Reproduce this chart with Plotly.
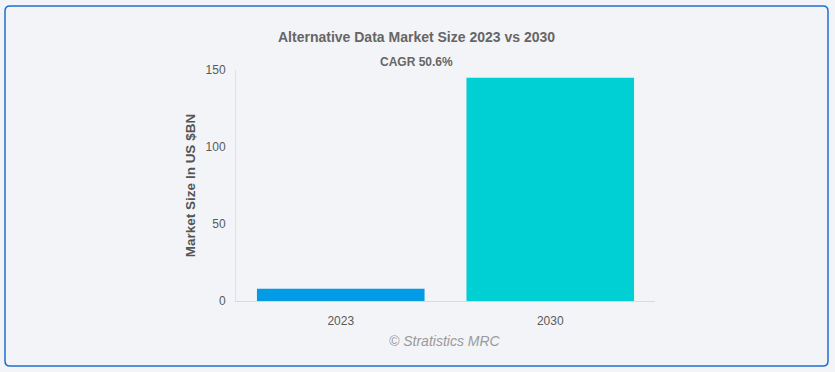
import plotly.graph_objects as go

years = ["2023", "2030"]
market_size = [8.0, 145.0]
bar_colors = ["#039be5", "#00d0d4"]
title_text = "Alternative Data Market Size 2023 vs 2030"
subtitle_text = "CAGR 50.6%"
y_title = "Market Size In US $BN"
credit = "© Stratistics MRC"

W, H = 835, 372
L, R, T, B = 236, 180, 70, 71
pw, ph = W - L - R, H - T - B

def px(x):
    return (x - L) / pw

def py(y):
    return (H - B - y) / ph

fig = go.Figure(go.Bar(x=years, y=market_size, marker=dict(color=bar_colors, line=dict(width=0)), width=0.8))

# rounded border rectangle
x0, x1, y0, y1, r = 5, 828, 6, 366, 5
path = (
    f"M {px(x0+r)} {py(y0)} L {px(x1-r)} {py(y0)} Q {px(x1)} {py(y0)} {px(x1)} {py(y0+r)} "
    f"L {px(x1)} {py(y1-r)} Q {px(x1)} {py(y1)} {px(x1-r)} {py(y1)} "
    f"L {px(x0+r)} {py(y1)} Q {px(x0)} {py(y1)} {px(x0)} {py(y1-r)} "
    f"L {px(x0)} {py(y0+r)} Q {px(x0)} {py(y0)} {px(x0+r)} {py(y0)} Z"
)

fig.update_layout(
    width=W, height=H,
    margin=dict(l=L, r=R, t=T, b=B),
    paper_bgcolor="#f3f4f7",
    plot_bgcolor="rgba(0,0,0,0)",
    font=dict(family="Liberation Sans, Arial, sans-serif", color="#555555", size=12),
    showlegend=False,
    bargap=0.2,
    xaxis=dict(showgrid=False, showline=True, linecolor="#d9d9d9", linewidth=1, ticks="",
               ticklabelstandoff=9,
               tickfont=dict(size=12, color="#5a5a5a")),
    yaxis=dict(range=[0, 150], tickvals=[0, 50, 100, 150], showgrid=False, zeroline=False,
               showline=True, linecolor="#e0e0e0", linewidth=1, ticks="",
               ticklabelstandoff=7,
               tickfont=dict(size=12, color="#5a5a5a"),
               title=dict(text=f"<b>{y_title}</b>", font=dict(size=13.5, color="#555555"), standoff=6)),
    shapes=[dict(type="path", xref="paper", yref="paper", path=path,
                 line=dict(color="#1f6fd1", width=1.5), fillcolor="rgba(0,0,0,0)", layer="below")],
    annotations=[
        dict(text=f"<b>{title_text}</b>", xref="paper", yref="paper", x=px(416), y=py(37),
             showarrow=False, font=dict(size=14, color="#666666"), xanchor="center", yanchor="middle"),
        dict(text=f"<b>{subtitle_text}</b>", xref="paper", yref="paper", x=px(416), y=py(62),
             showarrow=False, font=dict(size=12, color="#666666"), xanchor="center", yanchor="middle"),
        dict(text=f"<i>{credit}</i>", xref="paper", yref="paper", x=px(445), y=py(341),
             showarrow=False, font=dict(size=14, color="#9a9a9a"), xanchor="center", yanchor="middle"),
    ],
)

fig.write_html("out.html", config={"displayModeBar": False},
               post_script="document.body.style.margin='0';document.body.style.overflow='hidden';")
